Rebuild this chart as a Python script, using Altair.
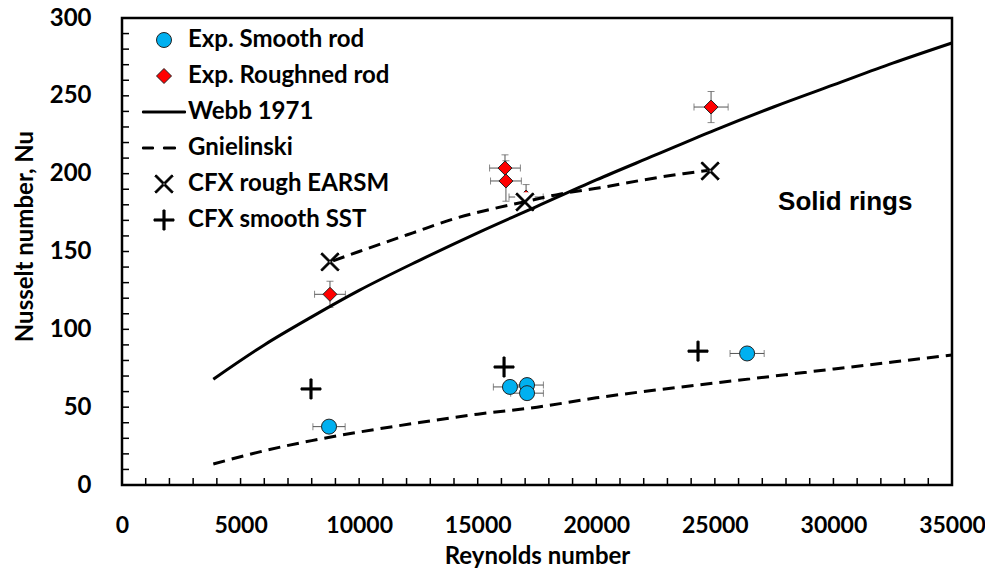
import altair as alt
import pandas as pd

# ---------------- data ----------------
series_names = ["Exp. Smooth rod", "Exp. Roughned rod", "Webb 1971",
                "Gnielinski", "CFX rough EARSM", "CFX smooth SST"]

smooth_re = [8730, 16360, 17080, 17080, 26360]
smooth_nu = [37.5, 63.0, 64.2, 59.0, 84.5]
smooth_xerr = [680, 700, 690, 690, 720]

rough_re = [8770, 16150, 16190, 17040, 24840]
rough_nu = [122.5, 203.6, 195.3, 185.0, 242.8]
rough_xerr = [650, 650, 650, 720, 720]
rough_yerr = [8.4, 8.5, 13.0, 8.0, 10.0]

cfx_rough_re = [8770, 16990, 24800]
cfx_rough_nu = [143.3, 181.8, 201.7]

cfx_smooth_re = [7970, 16110, 24290]
cfx_smooth_nu = [61.7, 75.8, 86.0]

cfx_curve_re = [8900, 10000, 12270, 14000, 15800, 17000, 18500, 20160, 22000, 23660, 24700]
cfx_curve_nu = [144, 150, 162, 171, 178, 182, 187, 191, 196, 200, 202]

corr_re = [3850, 6000, 8000, 10000, 12500, 15000, 17500, 20000, 22500, 25000, 27500, 30000, 32500, 35000]
webb_nu = [68, 90, 108, 125, 144, 162, 179, 196, 212, 228, 243, 257, 271, 284]
gniel_nu = [13.5, 22, 28.5, 34, 40, 45.5, 50, 56, 61, 65.5, 70, 74.5, 79, 83.5]

x_ticks = [0, 5000, 10000, 15000, 20000, 25000, 30000, 35000]
y_ticks = [0, 50, 100, 150, 200, 250, 300]
x_minor = list(range(1000, 35000, 1000))
y_minor = list(range(10, 300, 10))

annot_text = ["Solid rings"]
annot_re = [30500]
annot_nu = [176.7]

# ---------------- tables ----------------
smooth = pd.DataFrame({"Re": smooth_re, "Nu": smooth_nu, "series": series_names[0]})
smooth["xlo"] = smooth["Re"] - pd.Series(smooth_xerr)
smooth["xhi"] = smooth["Re"] + pd.Series(smooth_xerr)

rough = pd.DataFrame({"Re": rough_re, "Nu": rough_nu, "series": series_names[1]})
rough["xlo"] = rough["Re"] - pd.Series(rough_xerr)
rough["xhi"] = rough["Re"] + pd.Series(rough_xerr)
rough["ylo"] = rough["Nu"] - pd.Series(rough_yerr)
rough["yhi"] = rough["Nu"] + pd.Series(rough_yerr)

xerr_df = pd.concat([smooth, rough], ignore_index=True)

cfx_r = pd.DataFrame({"Re": cfx_rough_re, "Nu": cfx_rough_nu, "series": series_names[4]})
cfx_s = pd.DataFrame({"Re": cfx_smooth_re, "Nu": cfx_smooth_nu, "series": series_names[5]})
cfx_curve = pd.DataFrame({"Re": cfx_curve_re, "Nu": cfx_curve_nu})
webb = pd.DataFrame({"Re": corr_re, "Nu": webb_nu})
gniel = pd.DataFrame({"Re": corr_re, "Nu": gniel_nu})
annot = pd.DataFrame({"Re": annot_re, "Nu": annot_nu, "label": annot_text})
xm = pd.DataFrame({"Re": x_minor})
ym = pd.DataFrame({"Nu": y_minor})

# ---------------- styling helpers ----------------
FONT = "Lato"
XSHAPE = ("M-1.036,-1.224L1.224,1.036L1.036,1.224L-1.224,-1.036Z"
          "M-1.036,1.224L1.224,-1.036L1.036,-1.224L-1.224,1.036Z")
PSHAPE = "M-1.33,-0.14H1.33V0.14H-1.33ZM-0.14,-1.33H0.14V1.33H-0.14Z"
LSHAPE = "M-2.87,-0.13H2.87V0.13H-2.87Z"
DSHAPE = "M-2.87,-0.13H-1.4V0.13H-2.87ZM-0.07,-0.13H1.53V0.13H-0.07Z"

shape_range = ["circle", "diamond", LSHAPE, DSHAPE, XSHAPE, PSHAPE]
fill_range = ["#00B0F0", "#FF0000", "black", "black", "black", "black"]
stroke_range = ["#222222", "#222222", "black", "black", "black", "black"]

legend = alt.Legend(title=None, orient="none", legendX=30, legendY=10,
                    labelFont=FONT, labelFontWeight="bold", labelFontSize=24,
                    labelColor="black", symbolSize=225, symbolStrokeWidth=1,
                    symbolOpacity=1, rowPadding=12, labelOffset=12,
                    labelLimit=400, padding=0)

xscale = alt.Scale(domain=[0, 35000], nice=False, zero=False)
yscale = alt.Scale(domain=[0, 300], nice=False, zero=False)

x_axis = alt.Axis(
    values=x_ticks, format="d", title="Reynolds number", grid=False, ticks=False,
    domain=False, labelFont=FONT, labelFontWeight="bold", labelFontSize=23,
    labelColor="black", labelPadding=29, labelFlush=False,
    titleFont=FONT, titleFontWeight="bold", titleFontSize=24, titleColor="black",
    titleX=415, titleY=78, titleAlign="center", titleBaseline="alphabetic")
y_axis = alt.Axis(
    values=y_ticks, title="Nusselt number, Nu", grid=False, ticks=False,
    domain=False, labelFont=FONT, labelFontWeight="bold", labelFontSize=24,
    labelColor="black", labelPadding=31, labelFlush=False,
    titleFont=FONT, titleFontWeight="bold", titleFontSize=24, titleColor="black",
    titleAngle=270, titleX=-90, titleY=218, titleAlign="center",
    titleBaseline="alphabetic")


def X(field="Re:Q"):
    return alt.X(field, scale=xscale, axis=x_axis, title="Reynolds number")


def Y(field="Nu:Q"):
    return alt.Y(field, scale=yscale, axis=y_axis, title="Nusselt number, Nu")


def series_enc():
    return dict(
        shape=alt.Shape("series:N", scale=alt.Scale(domain=series_names, range=shape_range), legend=legend),
        fill=alt.Fill("series:N", scale=alt.Scale(domain=series_names, range=fill_range), legend=legend),
        stroke=alt.Stroke("series:N", scale=alt.Scale(domain=series_names, range=stroke_range), legend=legend),
    )


# ---------------- layers ----------------
x_tick_rules = alt.Chart(xm).mark_rule(color="black", strokeWidth=1.5).encode(
    x=X(), y=alt.value(467), y2=alt.value(460))
y_tick_rules = alt.Chart(ym).mark_rule(color="black", strokeWidth=1.5).encode(
    y=Y(), x=alt.value(0), x2=alt.value(7))

EB = "#555555"
xerr_rule = alt.Chart(xerr_df).mark_rule(color=EB, strokeWidth=1).encode(
    x=X("xlo:Q"), x2="xhi:Q", y=Y())
xerr_cap_lo = alt.Chart(xerr_df).mark_tick(color=EB, orient="vertical", size=7, thickness=1).encode(
    x=X("xlo:Q"), y=Y())
xerr_cap_hi = alt.Chart(xerr_df).mark_tick(color=EB, orient="vertical", size=7, thickness=1).encode(
    x=X("xhi:Q"), y=Y())
yerr_rule = alt.Chart(rough).mark_rule(color=EB, strokeWidth=1).encode(
    x=X(), y=Y("ylo:Q"), y2="yhi:Q")
yerr_cap_lo = alt.Chart(rough).mark_tick(color=EB, orient="horizontal", size=7, thickness=1).encode(
    x=X(), y=Y("ylo:Q"))
yerr_cap_hi = alt.Chart(rough).mark_tick(color=EB, orient="horizontal", size=7, thickness=1).encode(
    x=X(), y=Y("yhi:Q"))

diamonds = alt.Chart(rough).mark_point(filled=True, opacity=1, size=196, strokeWidth=1).encode(
    x=X(), y=Y(), **series_enc())

white_sq = alt.Chart(cfx_r).mark_point(filled=True, opacity=1, shape="square", size=380,
                                        fill="white", strokeWidth=0).encode(x=X(), y=Y())

webb_line = alt.Chart(webb).mark_line(color="black", strokeWidth=3, interpolate="monotone").encode(
    x=X(), y=Y())
gniel_line = alt.Chart(gniel).mark_line(color="black", strokeWidth=3, strokeDash=[12, 7],
                                        interpolate="monotone").encode(x=X(), y=Y())
cfx_line = alt.Chart(cfx_curve).mark_line(color="black", strokeWidth=3, strokeDash=[12, 7],
                                          interpolate="monotone").encode(x=X(), y=Y())

xmarks = alt.Chart(cfx_r).mark_point(filled=True, opacity=1, size=225, strokeWidth=1).encode(
    x=X(), y=Y(), **series_enc())
pmarks = alt.Chart(cfx_s).mark_point(filled=True, opacity=1, size=225, strokeWidth=1).encode(
    x=X(), y=Y(), **series_enc())
circles = alt.Chart(smooth).mark_point(filled=True, opacity=1, size=225, strokeWidth=1).encode(
    x=X(), y=Y(), **series_enc())

text = alt.Chart(annot).mark_text(font="Liberation Sans", fontWeight="bold", fontSize=26,
                                  align="center", baseline="alphabetic", color="black").encode(
    x=X(), y=Y(), text="label:N")

chart = alt.layer(
    x_tick_rules, y_tick_rules,
    xerr_rule, xerr_cap_lo, xerr_cap_hi, yerr_rule, yerr_cap_lo, yerr_cap_hi,
    diamonds, white_sq, webb_line, gniel_line, cfx_line,
    xmarks, pmarks, circles, text,
).properties(
    width=830, height=467,
    padding={"left": 114, "top": 10, "right": 33, "bottom": 83},
    autosize=alt.AutoSizeParams(type="none"),
).configure_view(stroke="black", strokeWidth=2.5)

chart.save("out.html", embed_options={"renderer": "svg", "actions": False})
